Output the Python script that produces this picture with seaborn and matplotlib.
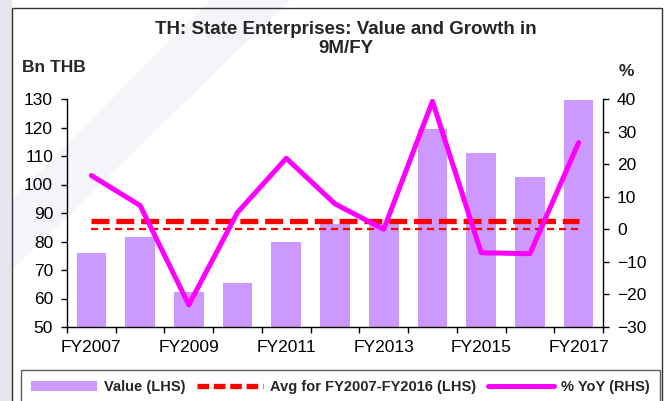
import numpy as np
import pandas as pd
import matplotlib
matplotlib.use("Agg")
import matplotlib.pyplot as plt
import seaborn as sns
from matplotlib.patches import Rectangle, Polygon
from matplotlib.lines import Line2D
from matplotlib.patches import Patch

years = ["FY2007", "FY2008", "FY2009", "FY2010", "FY2011", "FY2012",
         "FY2013", "FY2014", "FY2015", "FY2016", "FY2017"]
values = [76.0, 81.5, 62.3, 65.5, 80.0, 86.3, 86.3, 119.5, 111.0, 102.5, 129.5]
yoy = [16.5, 7.3, -23.2, 5.2, 21.8, 7.8, 0.0, 39.3, -7.2, -7.5, 26.6]
left_ticks = [50, 60, 70, 80, 90, 100, 110, 120, 130]
right_ticks = [-30, -20, -10, 0, 10, 20, 30, 40]

sns.set_theme(style="white")
plt.rcParams['font.family'] = ['Liberation Sans', 'DejaVu Sans']

fig = plt.figure(figsize=(6.69, 4.01), dpi=100)
fig.patch.set_facecolor("white")

# background decorations
fig.patches.append(Rectangle((0, 0), 12/669, 1, transform=fig.transFigure,
                             facecolor="#E6E6F0", edgecolor="none", zorder=-10))
fig.patches.append(Polygon([(12/669, 1-270/401), (12/669, 1-200/401), (210/669, 1), (290/669, 1)],
                           closed=True, transform=fig.transFigure,
                           facecolor="#F4F4F9", edgecolor="none", zorder=-9))
fig.patches.append(Rectangle((12/669, -0.05), 650/669, 1 - 8/401 + 0.05, transform=fig.transFigure,
                             facecolor="none", edgecolor="#333333", linewidth=1.0, zorder=-5))

ax = fig.add_axes([67/669, 1-327/401, (603-67)/669, (327-99)/401])
ax.set_facecolor("none")

df = pd.DataFrame({"year": years, "value": values})
sns.barplot(data=df, x="year", y="value", color="#CC99FF", saturation=1,
            width=0.61, ax=ax, edgecolor="none")

avg = float(np.mean(values[:10]))
ax.hlines(avg, 0, len(years) - 1, color="#FF0000", lw=3.8,
          linestyle=(0, (3.4, 1.3)), zorder=3)

ax.set_ylim(50, 130)
ax.set_xlim(-0.5, len(years) - 0.5)
ax.set_yticks(left_ticks)
ax.set_ylabel("")
ax.set_xlabel("")

ax2 = ax.twinx()
ax2.hlines(0, 0, len(years) - 1, color="#FF0000", lw=1.6, linestyle=(0, (3.2, 2.2)), zorder=2)
sns.lineplot(x=np.arange(len(years)), y=yoy, ax=ax2, color="#FF00FF", lw=3.6, zorder=4)
ax2.set_ylim(-30, 40)
ax2.set_yticks(right_ticks)
ax2.set_xlim(-0.5, len(years) - 0.5)

fs = 12.5
ax.set_xticks(range(0, len(years), 2))
ax.set_xticklabels(years[::2])
ax.set_xticks(np.arange(-0.5, len(years), 1.0), minor=True)
ax.tick_params(axis="x", which="major", length=0, labelsize=fs, pad=9, colors="black")
ax.tick_params(axis="x", which="minor", length=4, width=1, direction="out", color="black", bottom=True)
ax.tick_params(axis="y", length=4, width=1, direction="out", labelsize=fs, colors="black", left=True, pad=6)
ax2.tick_params(axis="y", length=4, width=1, direction="out", labelsize=fs, colors="black", right=True, pad=6)

for a in (ax, ax2):
    a.spines["top"].set_visible(False)
    for s in ("left", "bottom", "right"):
        a.spines[s].set_color("black")
        a.spines[s].set_linewidth(1.0)
ax.spines["right"].set_visible(False)
ax2.spines["left"].set_visible(False)
ax2.spines["bottom"].set_visible(False)
ax.grid(False)
ax2.grid(False)

fig.text(346/669, 1-39/401, "TH: State Enterprises: Value and Growth in\n9M/FY",
         ha="center", va="center", fontsize=13.5, fontweight="bold", linespacing=1.2)
fig.text(22/669, 1-67/401, "Bn THB", ha="left", va="center", fontsize=12.5, fontweight="bold")
fig.text(626/669, 1-72/401, "%", ha="center", va="center", fontsize=12.5, fontweight="bold")

handles = [Patch(facecolor="#CC99FF", edgecolor="none"),
           Line2D([0], [0], color="#FF0000", lw=3.8, linestyle=(0, (2.2, 0.9))),
           Line2D([0], [0], color="#FF00FF", lw=3.6)]
labels = ["Value (LHS)", "Avg for FY2007-FY2016 (LHS)", "% YoY (RHS)"]
leg = fig.legend(handles, labels, loc="upper left", bbox_to_anchor=(21/669, 1-370/401),
                 ncol=3, frameon=True, fancybox=False, edgecolor="#333333",
                 prop={"weight": "bold", "size": 10.5}, handlelength=4.5, columnspacing=0.8,
                 handletextpad=0.5, borderpad=0.7, borderaxespad=0)
leg.get_frame().set_linewidth(1.0)

fig.savefig("out.png", dpi=100)
